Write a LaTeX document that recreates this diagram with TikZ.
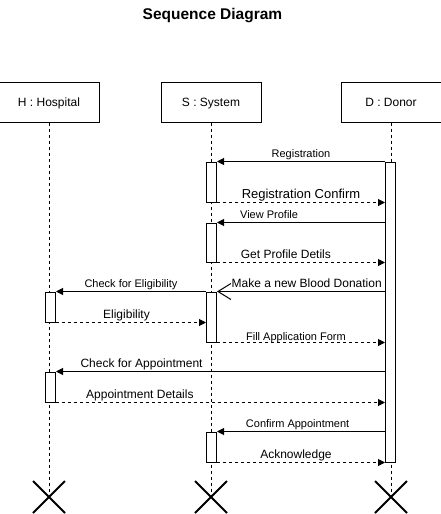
\documentclass[tikz,border=0pt]{standalone}
\usepackage{fontspec}
\setmainfont{Liberation Sans}
\usetikzlibrary{positioning,arrows.meta,shapes.misc}

\begin{document}
\begin{tikzpicture}[x=1pt,y=-1pt,line width=1pt,
  lifebox/.style={draw, minimum width=100pt, minimum height=40pt, inner sep=0pt,
    text depth=0pt, font=\fontsize{12}{14}\selectfont},
  act/.style={draw, fill=white, minimum width=10pt, inner sep=0pt},
  lifeline/.style={dash pattern=on 3pt off 3pt},
  call/.style={-{Triangle[length=7pt,width=7pt]}},
  reply/.style={call, dash pattern=on 3pt off 3pt},
  destroy/.style={draw, cross out, minimum size=30pt, inner sep=0pt, line width=2pt},
  lbl/.style={anchor=base, yshift=4.5pt, inner sep=0pt, font=\fontsize{12}{14}\selectfont},
  small/.style={lbl, font=\fontsize{11}{13}\selectfont}]
  \useasboundingbox (0,0) rectangle (441,514);

  \node[font=\bfseries\fontsize{15.5}{18}\selectfont] (title) at (212.5,16) {Sequence Diagram};

  % lifelines
  \node[lifebox] (S) at (211,102) {S : System};
  \node[lifebox, left=61pt of S] (H) {H : Hospital};
  \node[lifebox, right=79pt of S] (D) {D : Donor};
  \coordinate (bottom) at (0,497);
  \foreach \p in {H,S,D}{
    \node[destroy] (x\p) at (\p |- bottom) {};
    \draw[lifeline] (\p) -- (x\p.center);
  }

  % activations
  \node[act, minimum height=300pt] (d1) at (390.5,312) {};
  \node[act, minimum height=40pt] (s1) at (211.5,182) {};
  \node[act, minimum height=39pt] (s2) at (211.5,242.5) {};
  \node[act, minimum height=50pt] (s3) at (211.5,317) {};
  \node[act, minimum height=30pt] (s4) at (211.5,447) {};
  \node[act, minimum height=30pt] (h1) at (50.5,307) {};
  \node[act, minimum height=30pt] (h2) at (50.5,387) {};

  % messages
  \draw[call] (d1.west |- s1.north) -- node[small] {Registration} (s1.north east);
  \draw[reply] (s1.south east) -- node[lbl, font=\fontsize{13}{15}\selectfont] {Registration Confirm} (d1.west |- s1.south);
  \draw[call] (d1.west |- s2.north) -- node[small, pos=0.69] {View Profile} (s2.north east);
  \draw[reply] (s2.south east) -- node[lbl, pos=0.41] {Get Profile Detils} (d1.west |- s2.south);
  \draw[-{Straight Barb[length=13pt,width=16pt]}] (d1.west |- s3.north) -- node[lbl, pos=0.466] {Make a new Blood Donation} (s3.north east);
  \draw[call] (s3.north west) -- node[small] {Check for Eligibility} (h1.north east);
  \draw[reply] (h1.south east) -- node[lbl, pos=0.47] {Eligibility} (s3.west |- h1.south);
  \draw[reply] (s3.south east) -- node[small, pos=0.47, yshift=-2pt] {Fill Application Form} (d1.west |- s3.south);
  \draw[call] (d1.west |- h2.north) -- node[lbl, pos=0.74] {Check for Appointment} (h2.north east);
  \draw[reply] (h2.south east) -- node[lbl, pos=0.255] {Appointment Details} (d1.west |- h2.south);
  \draw[call] (d1.west |- s4.north) -- node[small, pos=0.52] {Confirm Appointment} (s4.north east);
  \draw[reply] (s4.south east) -- node[lbl, pos=0.47] {Acknowledge} (d1.south west);
\end{tikzpicture}
\end{document}
